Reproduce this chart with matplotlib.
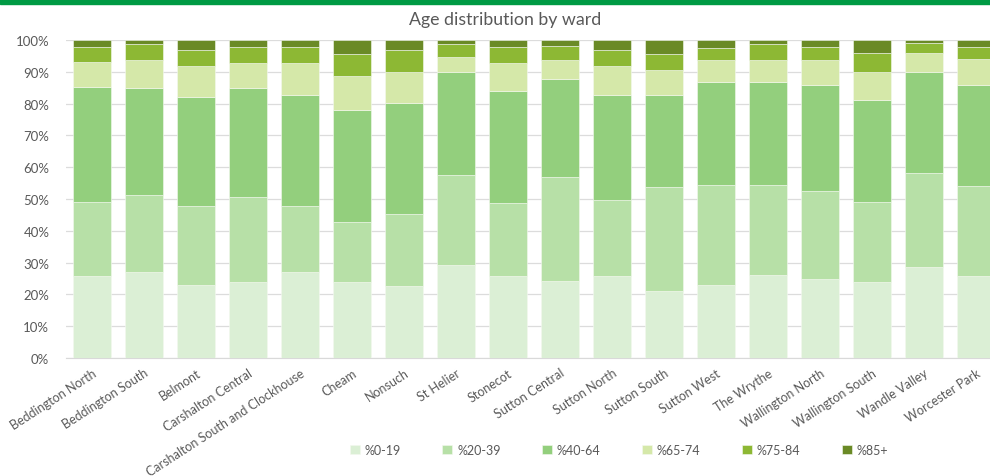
import matplotlib.pyplot as plt
from matplotlib.patches import Rectangle
from matplotlib.ticker import PercentFormatter
import numpy as np

wards = ['Beddington North', 'Beddington South', 'Belmont', 'Carshalton Central',
         'Carshalton South and Clockhouse', 'Cheam', 'Nonsuch', 'St Helier', 'Stonecot',
         'Sutton Central', 'Sutton North', 'Sutton South', 'Sutton West', 'The Wrythe',
         'Wallington North', 'Wallington South', 'Wandle Valley', 'Worcester Park']

bands = ['%0-19', '%20-39', '%40-64', '%65-74', '%75-84', '%85+']

# share of population (%) in each age band, one value per ward
age_0_19 = [25.7, 27.2, 22.9, 23.9, 27.0, 23.9, 22.7, 29.1, 25.9,
            24.1, 25.9, 21.0, 23.1, 26.1, 25.0, 23.8, 28.7, 25.7]
age_20_39 = [23.5, 24.1, 24.9, 26.8, 20.8, 19.0, 22.6, 28.5, 22.9,
             32.8, 23.8, 32.7, 31.3, 28.3, 27.6, 25.4, 29.6, 28.4]
age_40_64 = [35.9, 33.6, 34.2, 34.2, 35.0, 35.0, 34.8, 32.2, 35.1,
             30.9, 33.1, 29.1, 32.4, 32.4, 33.1, 31.9, 31.7, 31.9]
age_65_74 = [7.9, 8.9, 9.8, 7.9, 10.0, 10.8, 9.9, 5.0, 8.9,
             5.9, 8.9, 7.9, 6.9, 6.9, 8.0, 8.9, 5.9, 8.0]
age_75_84 = [4.9, 5.0, 4.9, 5.1, 5.1, 7.0, 7.0, 4.0, 5.1,
             4.3, 5.0, 4.9, 3.9, 5.0, 4.2, 5.9, 3.1, 3.9]
age_85_plus = [2.1, 1.2, 3.3, 2.1, 2.1, 4.3, 3.0, 1.2, 2.1,
               2.0, 3.3, 4.4, 2.4, 1.3, 2.1, 4.1, 1.0, 2.1]

colours = ['#dbefd5', '#b7e0a7', '#93cf7d', '#d5e8a9', '#8db834', '#6a8a26']
grey = '#595959'

fig = plt.figure(figsize=(9.9, 4.77), dpi=100)
plt.rcParams['font.family'] = ['Lato', 'DejaVu Sans']

# green strip across the top
fig.patches.append(Rectangle((0, 0.99), 1, 0.011, transform=fig.transFigure,
                             color='#009a44', zorder=0))

ax = fig.add_axes([66 / 990, 118 / 477, 936 / 990, 318 / 477])

x = np.arange(len(wards))
bottom = np.zeros(len(wards))
series = [age_0_19, age_20_39, age_40_64, age_65_74, age_75_84, age_85_plus]
for name, vals, col in zip(bands, series, colours):
    ax.bar(x, vals, 0.73, bottom=bottom, color=col, label=name,
           edgecolor='#f4f9f0', linewidth=0.4, zorder=3)
    bottom += np.array(vals)

ax.set_xlim(-0.5, len(wards) - 0.5)
ax.set_ylim(0, 100)
ax.set_yticks(range(0, 101, 10))
ax.yaxis.set_major_formatter(PercentFormatter(decimals=0))
ax.grid(axis='y', color='#dcdcdc', linewidth=0.9, zorder=0)
for s in ['top', 'right', 'left']:
    ax.spines[s].set_visible(False)
ax.spines['bottom'].set_color('#d9d9d9')
ax.tick_params(axis='both', length=0, colors=grey, labelsize=9)
ax.tick_params(axis='y', pad=12, labelsize=9.5)

ax.set_xticks(x)
ax.set_xticklabels(wards, rotation=33, ha='right', rotation_mode='anchor')
ax.tick_params(axis='x', pad=6)

fig.text(0.51, 0.958, 'Age distribution by ward', ha='center', va='center',
         fontsize=12.8, color=grey)

ax.legend(loc='center', ncol=6, frameon=False, fontsize=9,
          labelcolor=grey, handlelength=0.8, handleheight=0.8,
          columnspacing=3.3, handletextpad=0.4,
          bbox_to_anchor=(0.625, 0.055), bbox_transform=fig.transFigure)

fig.savefig('out.png', dpi=100)
